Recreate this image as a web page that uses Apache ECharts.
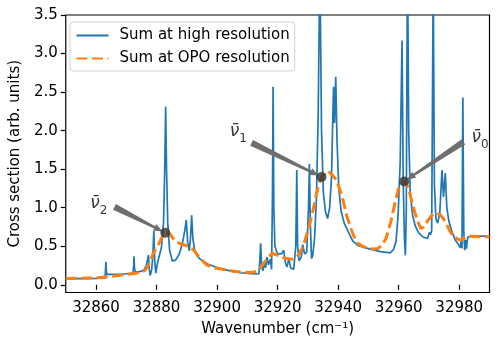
<!DOCTYPE html>
<html>
<head>
<meta charset="utf-8">
<script src="https://cdn.jsdelivr.net/npm/echarts@6/dist/echarts.min.js"></script>
<style>
  html, body { margin: 0; padding: 0; background: #fff; }
  #chart { width: 498px; height: 347px; }
</style>
</head>
<body>
<div id="chart"></div>
<script>
// tick labels
var xTicks = [32860, 32880, 32900, 32920, 32940, 32960, 32980];
var yTicks = [0, 0.5, 1.0, 1.5, 2.0, 2.5, 3.0, 3.5];

// blue: sum at high resolution
var highX = [32850, 32855, 32860, 32863.0, 32863.15, 32863.26, 32863.4, 32863.6, 32866, 32869,
  32872.2, 32872.45, 32872.55, 32872.7, 32873.0, 32874.5, 32875.8, 32876.6, 32877.1, 32877.33,
  32877.6, 32877.9, 32878.4, 32878.8, 32879.1, 32879.4, 32879.75, 32880.3, 32880.8, 32881.6,
  32882.3, 32882.7, 32883.0, 32883.3, 32883.7, 32884.3, 32885.2, 32886.3, 32887.5, 32888.6,
  32889.4, 32889.8, 32890.3, 32890.8, 32891.2, 32891.6, 32892.0, 32892.6, 32893.5, 32894.5,
  32896.9, 32899.5, 32902.3, 32905, 32907.7, 32911, 32913.8, 32914.1, 32914.4, 32914.7,
  32915.1, 32915.6, 32916.0, 32916.5, 32917.0, 32917.6, 32918.0, 32918.3, 32918.5, 32918.75,
  32919.1, 32920.0, 32921.3, 32921.98, 32922.6, 32923.1, 32923.7, 32924.3, 32925.3, 32926.0,
  32926.33, 32926.6, 32927.1, 32927.8, 32928.3, 32928.9, 32929.6, 32930.2, 32930.5, 32930.8,
  32931.2, 32931.6, 32932.2, 32932.8, 32933.4, 32933.96, 32934.5, 32935.1, 32935.8, 32936.5,
  32937.2, 32937.8, 32938.3, 32938.5, 32938.8, 32939.2, 32939.6, 32940.2, 32941.0, 32942.0,
  32943.2, 32944.8, 32946.5, 32947.2, 32947.5, 32950.9, 32954.0, 32957.2, 32958.3, 32959.1,
  32959.8, 32960.5, 32961.1, 32961.5, 32961.9, 32962.2, 32962.5, 32962.9, 32963.3, 32963.8,
  32964.6, 32965.5, 32966.5, 32968.0, 32969.5, 32970.2, 32970.5, 32970.9, 32971.4, 32971.8,
  32972.3, 32972.9, 32973.6, 32974.3, 32974.8, 32975.4, 32975.9, 32976.6, 32977.5, 32978.7,
  32979.8, 32980.4, 32980.7, 32980.9, 32981.2, 32981.5, 32981.8, 32982.1, 32982.4, 32982.8,
  32983.3, 32985, 32990];
var highY = [0.080, 0.080, 0.082, 0.085, 0.20, 0.30, 0.18, 0.135, 0.135, 0.14,
  0.15, 0.25, 0.37, 0.22, 0.165, 0.17, 0.19, 0.25, 0.34, 0.385,
  0.20, 0.12, 0.20, 0.40, 0.70, 0.30, 0.15, 0.28, 0.36, 0.48,
  0.80, 1.50, 2.31, 1.50, 0.80, 0.45, 0.31, 0.32, 0.40, 0.55,
  0.72, 0.84, 0.55, 0.44, 0.60, 0.90, 0.60, 0.45, 0.37, 0.33,
  0.27, 0.23, 0.20, 0.175, 0.156, 0.145, 0.14, 0.30, 0.54, 0.25,
  0.18, 0.28, 0.22, 0.36, 0.26, 0.33, 0.20, 1.20, 2.57, 1.00,
  0.50, 0.40, 0.40, 0.45, 0.28, 0.23, 0.34, 0.22, 0.20, 0.50,
  1.49, 0.50, 0.31, 0.36, 0.52, 0.40, 0.42, 1.00, 1.57, 0.80,
  0.34, 0.38, 0.60, 1.10, 2.20, 4.20, 2.00, 1.20, 0.95, 0.86,
  1.00, 1.40, 2.30, 2.57, 2.10, 2.70, 1.90, 1.25, 0.95, 0.80,
  0.70, 0.57, 0.51, 0.50, 0.48, 0.46, 0.43, 0.415, 0.46, 0.56,
  0.90, 1.60, 3.17, 1.30, 0.60, 0.385, 0.90, 4.30, 2.00, 1.20,
  0.90, 0.76, 0.68, 0.62, 0.60, 0.68, 0.65, 0.70, 4.00, 1.30,
  0.85, 0.80, 0.95, 1.49, 1.14, 1.45, 1.00, 0.82, 0.70, 0.58,
  0.52, 0.48, 0.60, 0.47, 2.43, 0.70, 0.45, 0.58, 0.47, 0.62,
  0.64, 0.635, 0.63];

// orange: sum at OPO resolution
var opoX = [32850, 32855, 32860, 32864, 32868, 32871, 32873.4, 32875.2, 32876.3, 32877.2,
  32878.0, 32879.1, 32880.2, 32881.3, 32882.2, 32882.9, 32883.7, 32884.5, 32885.5, 32886.4,
  32888, 32889.7, 32891.0, 32892.3, 32893.4, 32894.5, 32896.5, 32899, 32902, 32905,
  32907.8, 32910.5, 32912.3, 32913.5, 32914.5, 32915.8, 32917.2, 32918.1, 32919.5, 32921.4,
  32923, 32924.7, 32925.8, 32926.9, 32928.0, 32929.1, 32930.2, 32931.2, 32932.1, 32932.9,
  32933.7, 32934.5, 32935.6, 32936.7, 32938.0, 32939.4, 32940.5, 32941.6, 32942.8, 32944.3,
  32945.3, 32946.5, 32948, 32949.8, 32951.5, 32953.1, 32954.6, 32955.8, 32956.7, 32957.4,
  32958.3, 32959.1, 32959.9, 32960.7, 32961.8, 32962.6, 32963.4, 32964.2, 32965.1, 32966.2,
  32967.3, 32968.3, 32969.4, 32970.5, 32971.6, 32972.7, 32973.7, 32974.9, 32976.0, 32977.0,
  32978.1, 32979.2, 32980.4, 32981.4, 32982.4, 32983.5, 32986, 32990];
var opoY = [0.082, 0.085, 0.09, 0.105, 0.125, 0.14, 0.15, 0.17, 0.19, 0.25,
  0.32, 0.42, 0.49, 0.58, 0.64, 0.675, 0.68, 0.655, 0.60, 0.56,
  0.53, 0.51, 0.49, 0.45, 0.39, 0.34, 0.26, 0.22, 0.20, 0.18,
  0.165, 0.16, 0.165, 0.19, 0.23, 0.30, 0.36, 0.41, 0.39, 0.36,
  0.34, 0.33, 0.35, 0.385, 0.47, 0.58, 0.73, 0.88, 1.04, 1.19,
  1.31, 1.40, 1.455, 1.47, 1.43, 1.36, 1.24, 1.10, 0.90, 0.72,
  0.62, 0.54, 0.50, 0.47, 0.465, 0.47, 0.52, 0.60, 0.72, 0.82,
  0.98, 1.12, 1.24, 1.31, 1.34, 1.31, 1.23, 1.10, 0.97, 0.83,
  0.73, 0.75, 0.82, 0.88, 0.92, 0.93, 0.91, 0.85, 0.77, 0.69,
  0.63, 0.60, 0.58, 0.60, 0.62, 0.63, 0.625, 0.62];

// marked band centres and their labels
var bandSub = ['2', '1', '0'];
var bandX = [32882.9, 32934.5, 32961.8];
var bandY = [0.675, 1.40, 1.34];
var labelX = [32860.9, 32907.0, 32986.9];
var labelY = [1.02, 1.955, 1.88];
var tailX = [32866.1, 32911.4, 32981.4];
var tailY = [1.01, 1.84, 1.855];

var font = 'DejaVu Sans';

function pairs(xs, ys) {
  return xs.map(function (x, i) { return [x, ys[i]]; });
}

var myChart = echarts.init(document.getElementById('chart'));

var option = {
  animation: false,
  textStyle: { fontFamily: font },
  grid: {
    left: 62, right: 8.5, top: 15, bottom: 54.5,
    show: true, borderColor: '#000', borderWidth: 1.2, backgroundColor: 'transparent'
  },
  legend: {
    data: ['Sum at high resolution', 'Sum at OPO resolution'],
    orient: 'vertical',
    left: 70, top: 22,
    padding: [6, 5, 5, 5.5],
    itemWidth: 32, itemHeight: 14, itemGap: 8,
    itemStyle: { opacity: 0 },
    backgroundColor: 'rgba(255,255,255,0.8)',
    borderColor: '#d0d0d0', borderWidth: 1, borderRadius: 3,
    textStyle: { fontFamily: font, fontSize: 15, color: '#000', padding: [0, 0, 0, 6] }
  },
  xAxis: {
    type: 'value', min: 32850, max: 32990,
    name: 'Wavenumber (cm⁻¹)', nameLocation: 'middle', nameGap: 29,
    nameTextStyle: { fontFamily: font, fontSize: 15, color: '#000' },
    axisLine: { show: false },
    axisTick: { show: true, length: 5, lineStyle: { color: '#000', width: 1.2 }, customValues: xTicks },
    axisLabel: {
      fontFamily: font, fontSize: 15, color: '#000', margin: 8, customValues: xTicks,
      formatter: function (v) { return String(v); }
    },
    splitLine: { show: false }
  },
  yAxis: {
    type: 'value', min: -0.1, max: 3.5,
    name: 'Cross section (arb. units)', nameLocation: 'middle', nameGap: 40,
    nameTextStyle: { fontFamily: font, fontSize: 15, color: '#000' },
    axisLine: { show: false },
    axisTick: { show: true, length: 5, lineStyle: { color: '#000', width: 1.2 }, customValues: yTicks },
    axisLabel: {
      fontFamily: font, fontSize: 15, color: '#000', margin: 8, customValues: yTicks,
      formatter: function (v) { return v.toFixed(1); }
    },
    splitLine: { show: false }
  },
  series: [
    {
      name: 'Sum at high resolution',
      type: 'line',
      data: pairs(highX, highY),
      symbol: 'none',
      clip: true,
      lineStyle: { color: '#1f77b4', width: 1.7 },
      itemStyle: { color: '#1f77b4' },
      z: 2
    },
    {
      name: 'Sum at OPO resolution',
      type: 'line',
      data: pairs(opoX, opoY),
      symbol: 'none',
      clip: true,
      lineStyle: { color: '#ff7f0e', width: 3, type: [11, 4.5] },
      itemStyle: { color: '#ff7f0e' },
      z: 3
    },
    {
      // arrows from the labels to the band centres
      type: 'custom',
      data: bandX.map(function (x, i) { return [tailX[i], tailY[i], x, bandY[i]]; }),
      encode: { x: [0, 2], y: [1, 3] },
      clip: false,
      z: 4,
      silent: true,
      renderItem: function (params, api) {
        var t = api.coord([api.value(0), api.value(1)]);
        var h = api.coord([api.value(2), api.value(3)]);
        var dx = h[0] - t[0], dy = h[1] - t[1];
        var len = Math.sqrt(dx * dx + dy * dy);
        var ux = dx / len, uy = dy / len;
        var nx = -uy, ny = ux;
        var tip = [h[0] - ux * 3, h[1] - uy * 3];
        var base = [tip[0] - ux * 9, tip[1] - uy * 9];
        var pts = [
          [t[0] + nx * 3.2, t[1] + ny * 3.2],
          [base[0] + nx * 1.2, base[1] + ny * 1.2],
          [base[0] + nx * 3.6, base[1] + ny * 3.6],
          tip,
          [base[0] - nx * 3.6, base[1] - ny * 3.6],
          [base[0] - nx * 1.2, base[1] - ny * 1.2],
          [t[0] - nx * 3.2, t[1] - ny * 3.2]
        ];
        return { type: 'polygon', shape: { points: pts }, style: { fill: '#6e6e6e' } };
      }
    },
    {
      type: 'scatter',
      data: pairs(bandX, bandY),
      symbolSize: 10,
      itemStyle: { color: '#333333' },
      z: 5,
      silent: true
    },
    {
      type: 'scatter',
      data: labelX.map(function (x, i) { return [x, labelY[i], bandSub[i]]; }),
      symbolSize: 0,
      silent: true,
      z: 6,
      label: {
        show: true, position: 'inside',
        formatter: function (p) { return '{v|ν̄}{s|' + p.value[2] + '}'; },
        rich: {
          v: { fontFamily: font, fontSize: 17, fontStyle: 'italic', color: '#000', lineHeight: 22, verticalAlign: 'top' },
          s: { fontFamily: font, fontSize: 12, color: '#000', lineHeight: 11, verticalAlign: 'bottom' }
        }
      }
    }
  ]
};
myChart.setOption(option);
</script>
</body>
</html>
